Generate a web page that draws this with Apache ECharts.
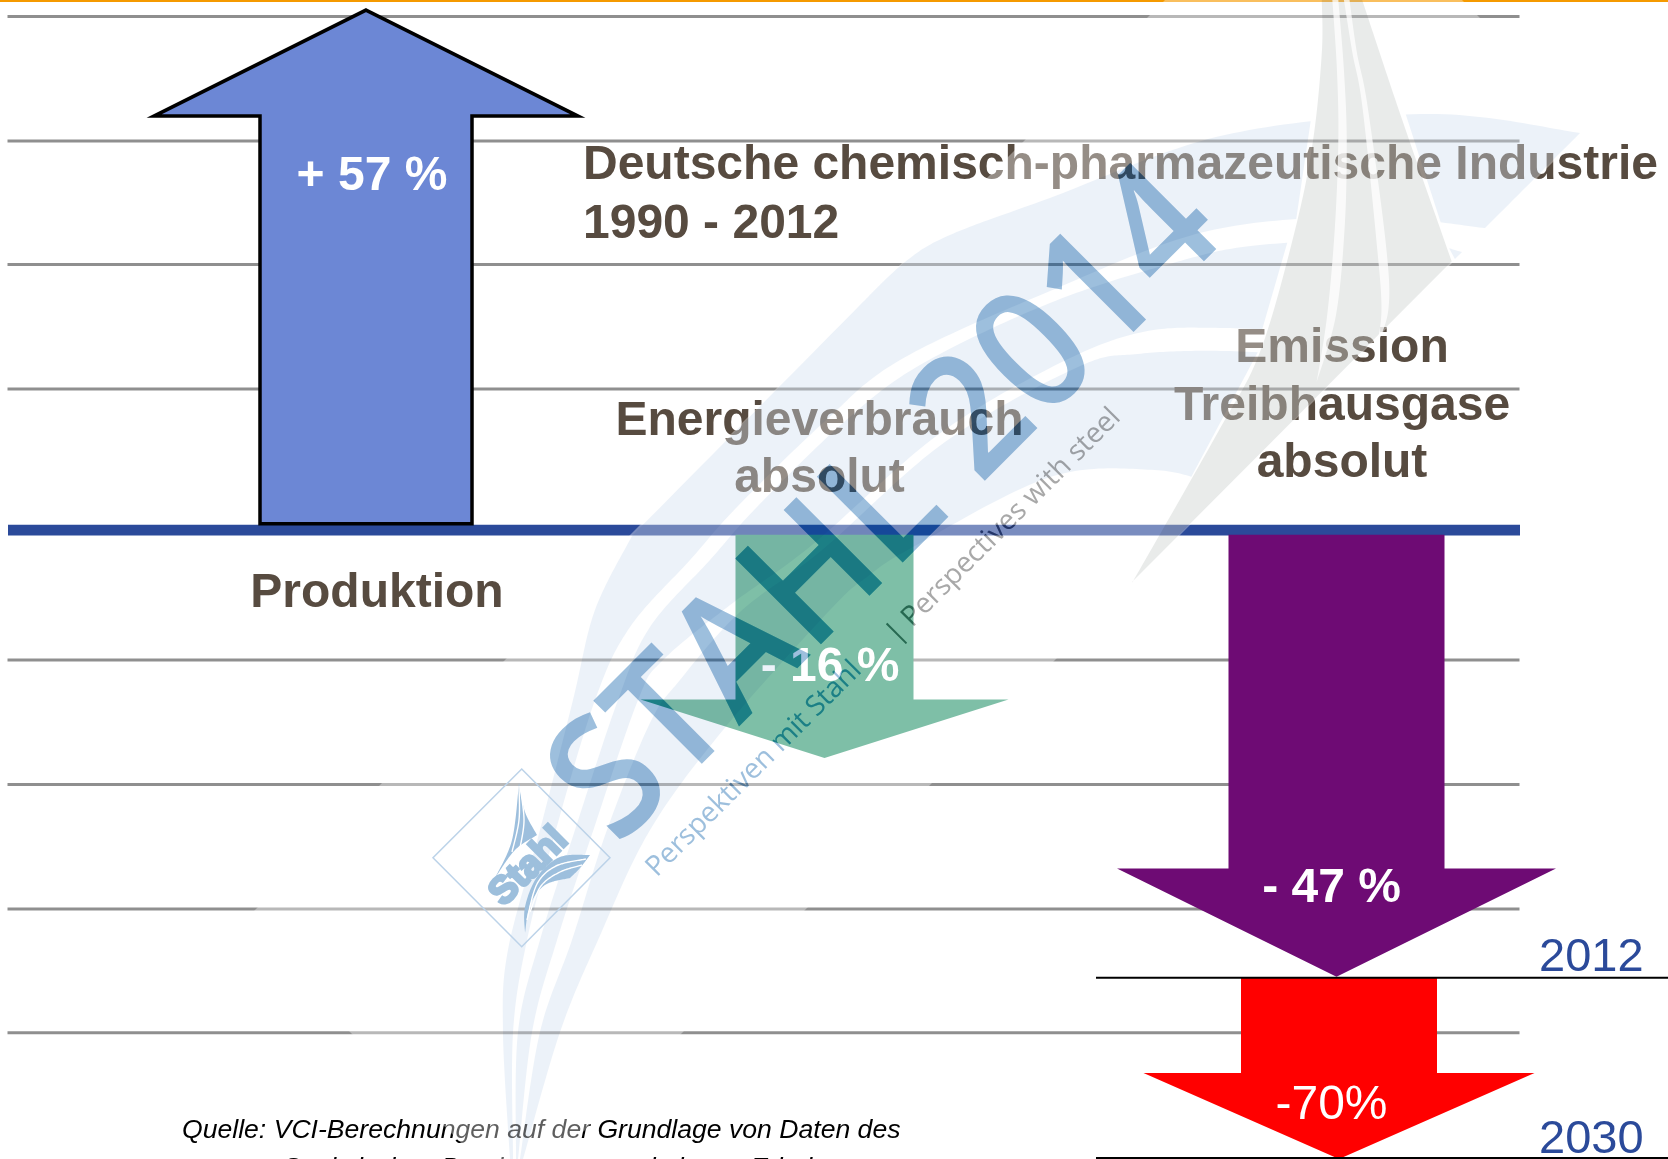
<!DOCTYPE html>
<html>
<head>
<meta charset="utf-8">
<title>Deutsche chemisch-pharmazeutische Industrie 1990 - 2012</title>
<script src="https://cdn.jsdelivr.net/npm/echarts@6/dist/echarts.min.js"></script>
<style>html,body{margin:0;padding:0;background:#fff;overflow:hidden}#c{width:1668px;height:1159px}</style>
</head>
<body>
<div id="c"></div>
<script>
// ---- data ----
const categories = ['Produktion', 'Energieverbrauch absolut', 'Emission Treibhausgase absolut', 'Ziel 2030'];
const percentLabels = ['+ 57 %', '- 16 %', '- 47 %', '-70%'];
const arrowTips = [56.8, -24.9, -48.8, -68.7];   // on the picture's percent axis
const arrowBases = [0.7, -0.5, -0.5, -48.9];
const gridValues = [56.1, 42.5, 29.0, 15.4, -14.2, -27.8, -41.4, -54.9];
const baselineValue = 0;
const yearMarks = [-48.9, -68.6];
const yearLabels = ['2012', '2030'];
const titleLines = ['Deutsche chemisch-pharmazeutische Industrie', '1990 - 2012'];
const sourceLines = ['Quelle: VCI-Berechnungen auf der Grundlage von Daten des', 'Statistischen Bundesamtes und eigene Erhebung'];

// ---- layout and style ----
const W = 1668, H = 1159;
const yMin = -68.7, yMax = 57.9;
const arrowLayout = [
  {cx: 366, shaft: 106, head: 212, depth: 106, fill: '#6C87D5', stroke: '#000', lw: 3.5, lx: 372, ly: 190, weight: 'bold'},
  {cx: 824.5, shaft: 89, head: 184, depth: 58.5, fill: '#349A74', lx: 830, ly: 681.5, weight: 'bold'},
  {cx: 1336.5, shaft: 108, head: 219.5, depth: 108.4, fill: '#6E0B74', lx: 1331.5, ly: 902, weight: 'bold'},
  {cx: 1339, shaft: 98, head: 195.5, depth: 86, fill: '#FF0000', lx: 1331.5, ly: 1119.5, weight: 'normal'}
];
const BROWN = '#574B40', NAVY = '#2B4A9A';
const textItems = [
  [categories[0], 377, 607.5, 48, 'bold', 'normal', BROWN, 'center'],
  ['Energieverbrauch', 819.5, 435.5, 48, 'bold', 'normal', BROWN, 'center'],
  ['absolut', 819.5, 492, 48, 'bold', 'normal', BROWN, 'center'],
  ['Emission', 1342, 362.5, 48, 'bold', 'normal', BROWN, 'center'],
  ['Treibhausgase', 1342, 420, 48, 'bold', 'normal', BROWN, 'center'],
  ['absolut', 1342, 477, 48, 'bold', 'normal', BROWN, 'center'],
  [titleLines[0], 583, 179.5, 48, 'bold', 'normal', BROWN, 'left'],
  [titleLines[1], 583, 238, 48, 'bold', 'normal', BROWN, 'left'],
  [yearLabels[0], 1539, 971.5, 47, 'normal', 'normal', NAVY, 'left'],
  [yearLabels[1], 1539, 1153.5, 47, 'normal', 'normal', NAVY, 'left'],
  [sourceLines[0], 182, 1138.5, 26.6, 'normal', 'italic', '#000', 'left'],
  [sourceLines[1], 283, 1176, 26.6, 'normal', 'italic', '#000', 'left']
];
const FONT = '"Liberation Sans", Arial, sans-serif';

function textEl(text, x, base, size, weight, fontStyle, fill, align) {
  const y = base - 0.285 * size;
  return {type: 'text', style: {text, x, y, fill, align, verticalAlign: 'middle', textAlign: align, textVerticalAlign: 'middle',
    font: fontStyle + ' ' + weight + ' ' + size + 'px ' + FONT}};
}

// ---- watermark (decoration over the chart) ----
function smooth(p) {
  const out = [];
  for (let i = 0; i < p.length - 1; i++) {
    const a = p[Math.max(i - 1, 0)], b = p[i], c = p[i + 1], d = p[Math.min(i + 2, p.length - 1)];
    for (let k = 0; k < 24; k++) {
      const t = k / 24, t2 = t * t, t3 = t2 * t;
      out.push([0, 1].map(j => 0.5 * (2 * b[j] + (c[j] - a[j]) * t + (2 * a[j] - 5 * b[j] + 4 * c[j] - d[j]) * t2 + (3 * b[j] - a[j] - 3 * c[j] + d[j]) * t3)));
    }
  }
  out.push(p[p.length - 1]);
  return out;
}
const band = (...edges) => edges.reduce((acc, e) => acc.concat(smooth(e)), []);
const BLUE_W = '#ECF2F9', GREY_W = '#E9EBEA';
const multiply = (fill) => ({fill, blend: 'multiply'});
const poly = (points, style) => ({type: 'polygon', silent: true, shape: {points}, style});
const z7 = (a) => a.map(p => [1050 + p[0] / 2.851, p[1] / 2.851]);

const greyLeft = smooth(z7([[775,0],[775,150],[750,400],[700,650],[600,1000],[480,1230],[235,1660]]));
const greyRight = smooth(z7([[890,0],[1000,330],[1145,745]])).concat([[1132,582]]);
function edgeX(edge, y) {
  for (let i = 0; i < edge.length - 1; i++) {
    const a = edge[i], b = edge[i + 1];
    if (a[1] <= y && y <= b[1] && b[1] > a[1]) return a[0] + (b[0] - a[0]) * (y - a[1]) / (b[1] - a[1]);
  }
  return y < edge[0][1] ? edge[0][0] : edge[edge.length - 1][0];
}
// a band is cut where the grey swoosh lies on top of it
const leftOfGrey = (pts) => pts.filter(p => p[0] < edgeX(greyLeft, p[1]));
const rightOfGrey = (pts) => pts.filter(p => p[0] > edgeX(greyRight, p[1]) + 2);

const bandA = band(
  [[510,1159],[503,1032],[508,950],[540,830],[573,700],[595,610],[632,536]],
  [[632,536],[860,305]],
  [[860,305],[905,262],[950,235],[1050,198],[1225,135],[1429,114],[1580,133]],
  [[1580,133],[1485,228]],
  [[1485,228],[1366,217],[1208,231],[1050,291],[900,360],[823,423],[737,507],[690,560],[630,627],[595,700],[553,840],[527,940],[513,1032],[513,1159]]);
const bandB = band(
  [[516,1159],[518,1032],[540,940],[575,830],[618,700],[650,627],[710,560],[757,507],[843,423],[920,365],[1050,303],[1173,263],[1260,245],[1401,240],[1462,252]],
  [[1462,252],[1378,336]],
  [[1378,336],[1225,328],[1138,333],[1050,368],[935,437],[812,545],[730,605],[663,660],[638,700],[590,840],[557,940],[532,1032],[518,1159]]);
const bandC = band(
  [[520,1159],[540,1032],[572,940],[607,830],[650,723],[680,680],[740,612],[822,550],[945,442],[1078,367],[1138,354],[1225,351],[1356,358]],
  [[1356,358],[1210,483]],
  [[1210,483],[1155,470],[1050,477],[913,547],[867,577],[830,610],[723,730],[650,830],[598,940],[560,1032],[523,1159]]);
const greySwoosh = greyLeft.concat([[1132,582],[1452,261]], greyRight.slice(0, -1).reverse());
const slit1 = band(z7([[805,0],[818,200],[822,400],[812,650],[790,900],[760,1090]]), z7([[760,1090],[815,900],[840,650],[846,400],[838,200],[822,0]]));
const slit2 = band(z7([[838,0],[862,150],[890,300],[930,680],[945,880],[930,990]]), z7([[930,990],[965,880],[958,700],[905,300],[875,150],[854,0]]));

const rectPts = [[241.5,923.5],[1313.5,-148.5],[1588.5,126.5],[516.5,1198.5]];
const WM_BLUE = '#9DBFDD', WM_BLUE_BURN = '#9DBFDE', WM_GREY = '#A8A8A8', WM_GREY_BURN = '#A8A8A9';
const blendByFill = {[WM_BLUE]: 'multiply', [WM_BLUE_BURN]: 'color-burn', [WM_GREY]: 'multiply', [WM_GREY_BURN]: 'color-burn'};
const wmText = (text, x, y, align, font, fill, extra) => Object.assign({type: 'text', silent: true, x, y, rotation: Math.PI / 4,
  style: {text, x: 0, y: 0, align, verticalAlign: 'middle', font, fill}}, extra || {});
const STAHL_FONT = '600 170px "Open Sans", sans-serif', PERSP_FONT = '28px "Open Sans", sans-serif';
const STAHL_X = 889, STAHL_Y = 508, STAHL_SCALE = {scaleX: 0.905};
const logoSlit = (points) => ({type: 'polyline', silent: true, shape: {points: smooth(points)}, style: {fill: 'none', stroke: '#fff', lineWidth: 1.4}});
const logoWord = wmText('Stahl', 529, 867, 'center', 'bold 38px ' + FONT, '#9DBFDC');
logoWord.style.stroke = '#9DBFDC';
logoWord.style.lineWidth = 3;
const watermark = [
  poly(rectPts, {fill: 'rgba(255,255,255,0.37)'}),
  // first pass of the big lettering: darkens only what lies under it, white stays white
  wmText('STAHL 2014', STAHL_X, STAHL_Y, 'center', STAHL_FONT, WM_BLUE_BURN, STAHL_SCALE),
  wmText('Perspektiven mit Stahl', 651, 872, 'left', PERSP_FONT, WM_BLUE_BURN),
  wmText('| Perspectives with steel', 1116, 413, 'right', PERSP_FONT, WM_GREY_BURN),
  poly(leftOfGrey(bandA), multiply(BLUE_W)),
  poly(rightOfGrey(bandA), multiply(BLUE_W)),
  poly(leftOfGrey(bandB), multiply(BLUE_W)),
  poly(rightOfGrey(bandB), multiply(BLUE_W)),
  poly(leftOfGrey(bandC), multiply(BLUE_W)),
  poly(greySwoosh, multiply(GREY_W)),
  poly(slit1, {fill: 'rgba(255,255,255,0.75)'}),
  poly(slit2, {fill: 'rgba(255,255,255,0.75)'}),
  poly([[521.7,769],[610,857.7],[521.7,946.7],[433,857.7]], {fill: 'none', stroke: '#BCD3E9', lineWidth: 1.5}),
  poly(band([[519,783],[525,812],[537,835]], [[537,835],[515,850],[495,878]], [[495,878],[512,840],[519,783]]), {fill: WM_BLUE}),
  poly(band([[590,855],[580,868],[570,878]], [[570,878],[545,885],[530,905],[525,933]], [[525,933],[525,907],[537,877],[560,857],[590,855]]), {fill: WM_BLUE}),
  logoSlit([[519,786],[519,820],[512,852]]),
  logoSlit([[520,786],[524,820],[520,848]]),
  logoSlit([[530,912],[541,886],[560,872],[582,865]]),
  logoSlit([[527,920],[537,884],[556,866],[586,859]]),
  logoWord,
  wmText('STAHL 2014', STAHL_X, STAHL_Y, 'center', STAHL_FONT, WM_BLUE, STAHL_SCALE),
  wmText('Perspektiven mit Stahl', 651, 872, 'left', PERSP_FONT, WM_BLUE),
  wmText('| Perspectives with steel', 1116, 413, 'right', PERSP_FONT, WM_GREY)
];
watermark.forEach((el, i) => { el.z = 100; el.z2 = i; });

function hLine(api, x0, x1, v, width, color) {
  const a = api.coord([x0, v]), b = api.coord([x1, v]);
  return {type: 'rect', shape: {x: a[0], y: a[1] - width / 2, width: b[0] - a[0], height: width}, style: {fill: color}};
}

const option = {
  animation: false,
  backgroundColor: '#fff',
  grid: {left: 0, right: 0, top: 0, bottom: 0},
  xAxis: {type: 'value', min: 0, max: W, show: false},
  yAxis: {type: 'value', min: yMin, max: yMax, show: false},
  graphic: {elements: watermark},
  series: [
    {type: 'custom', z: 1, silent: true, clip: false, data: [[0, yMax]],
      renderItem: (p, api) => hLine(api, 0, W, api.value(1), 4, '#F59A00')},
    {type: 'custom', z: 1, silent: true, clip: false, data: gridValues.map(v => [0, v]),
      renderItem: (p, api) => hLine(api, 7.5, 1519.5, api.value(1), 3, '#8F8F8F')},
    {type: 'custom', z: 2, silent: true, clip: false, data: [[0, baselineValue]],
      renderItem: (p, api) => hLine(api, 8, 1520, api.value(1), 10.7, NAVY)},
    {type: 'custom', z: 3, silent: true, clip: false, data: arrowTips.map((v, i) => [arrowLayout[i].cx, v, arrowBases[i]]),
      renderItem: (p, api) => {
        const L = arrowLayout[p.dataIndex];
        const tip = api.coord([api.value(0), api.value(1)]);
        const base = api.coord([api.value(0), api.value(2)]);
        const dir = tip[1] < base[1] ? 1 : -1;            // head points up or down
        const hy = tip[1] + dir * L.depth, c = tip[0];
        const points = [tip, [c + L.head, hy], [c + L.shaft, hy], [c + L.shaft, base[1]], [c - L.shaft, base[1]], [c - L.shaft, hy], [c - L.head, hy]];
        return {type: 'group', children: [
          {type: 'polygon', shape: {points}, style: {fill: L.fill, stroke: L.stroke || null, lineWidth: L.lw || 0, lineJoin: 'miter', miterLimit: 10}},
          textEl(percentLabels[p.dataIndex], L.lx, L.ly, 48, L.weight, 'normal', '#fff', 'center')
        ]};
      }},
    {type: 'custom', z: 4, silent: true, clip: false, data: yearMarks.map(v => [0, v]),
      renderItem: (p, api) => hLine(api, 1096, W, api.value(1), 2, '#000')},
    {type: 'custom', z: 5, silent: true, clip: false, data: textItems.map(t => [t[1], t[2]]),
      renderItem: (p, api) => {
        const t = textItems[p.dataIndex];
        return textEl(t[0], t[1], t[2], t[3], t[4], t[5], t[6], t[7]);
      }}
  ]
};
const chart = echarts.init(document.getElementById('c'), null, {renderer: 'canvas', width: W, height: H});
chart.setOption(option);

// The renderer builds text runs lazily; give the watermark's runs their blend afterwards.
function blendWatermarkText() {
  const zr = chart.getZr();
  zr.storage.getDisplayList(true, true).forEach(el => {
    const s = el.style;
    if (s && s.text && el.z >= 100 && blendByFill[s.fill]) { s.blend = blendByFill[s.fill]; el.markRedraw(); }
  });
  zr.refreshImmediately();
}
blendWatermarkText();
</script>
</body>
</html>
